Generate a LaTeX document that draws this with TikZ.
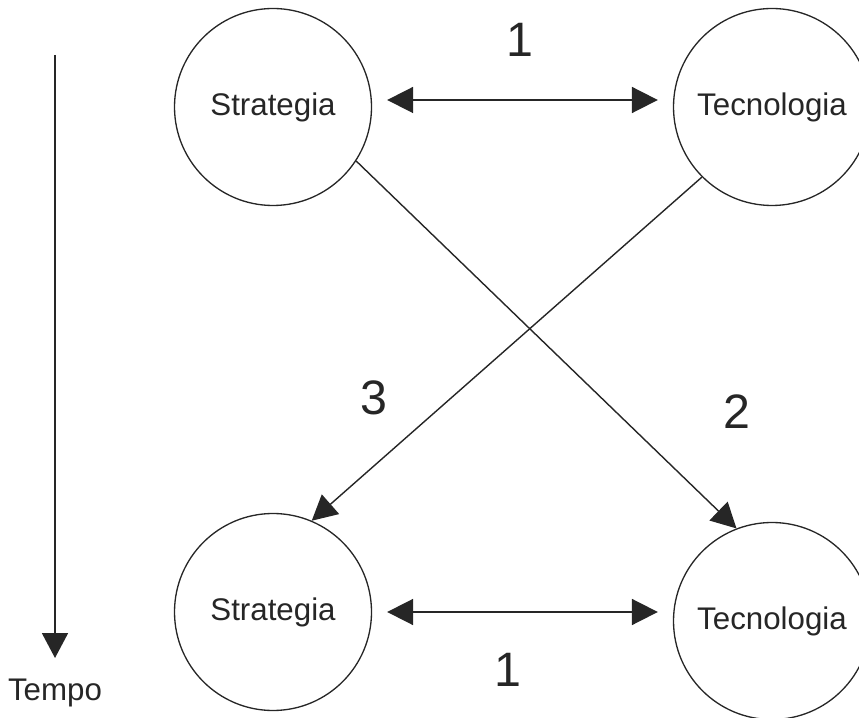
\documentclass[tikz,border=0pt]{standalone}
\usepackage{fontspec}
\setmainfont{Liberation Sans}
\usetikzlibrary{arrows.meta}

\definecolor{scuro}{HTML}{262626}
\tikzset{
	cerchio/.style={circle,draw=scuro,line width=0.75pt,minimum size=3.94cm,inner sep=0pt,text=scuro,font=\fontsize{17.8}{20}\selectfont},
	freccia/.style={draw=scuro,line width=0.8pt,-{Triangle[length=0.5cm,width=0.52cm]}},
	doppia/.style={draw=scuro,line width=1pt,{Triangle[length=0.52cm,width=0.52cm]}-{Triangle[length=0.52cm,width=0.52cm]}},
	numero/.style={text=scuro,font=\fontsize{27.5}{30}\selectfont},
}

\begin{document}
\begin{tikzpicture}
		\useasboundingbox (0,0) rectangle (17.18,-14.36);
		\node[cerchio] (s1) at (5.46,-2.14) {Strategia};
		\node[cerchio] (t1) at (15.44,-2.14) {Tecnologia};
		\node[cerchio] (s2) at (5.46,-12.24) {Strategia};
		\node[cerchio] (t2) at (15.44,-12.42) {Tecnologia};
		\draw[doppia,shorten <=0.3cm,shorten >=0.3cm] ([yshift=0.14cm]s1.east) -- ([yshift=0.14cm]s1.east -| t1.west);
		\draw[doppia,shorten <=0.3cm,shorten >=0.3cm] (s2.east) -- (s2.east -| t2.west);
		\draw[freccia] (s1.-33) -- (t2.111);
		\draw[freccia] (t1.225) -- (s2.67);
		\node[numero] (n1) at (10.4,-0.8) {1};
		\node[numero] (n1b) at (10.16,-13.4) {1};
		\node[numero] (n3) at (7.48,-7.96) {3};
		\node[numero] (n2) at (14.74,-8.24) {2};
		\coordinate (inizio) at (1.1,-1.1);
		\coordinate (fine) at (1.1,-13.16);
		\draw[freccia,line width=1.1pt] (inizio) -- (fine);
		\node[text=scuro,font=\fontsize{17.8}{20}\selectfont] (tempo) at (1.1,-13.86) {Tempo};
	\end{tikzpicture}
\end{document}
